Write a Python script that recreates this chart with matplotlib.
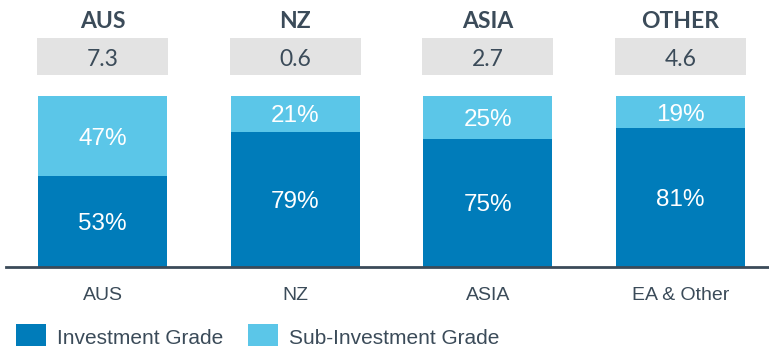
import matplotlib
matplotlib.use("Agg")
import matplotlib.pyplot as plt
from matplotlib.patches import Rectangle

# Exposure split by region
regions = ["AUS", "NZ", "ASIA", "OTHER"]
axis_labels = ["AUS", "NZ", "ASIA", "EA & Other"]
totals = ["7.3", "0.6", "2.7", "4.6"]
investment_grade = [53, 79, 75, 81]
sub_investment_grade = [47, 21, 25, 19]
series_names = ["Investment Grade", "Sub-Investment Grade"]

DARK = "#007CBA"
LIGHT = "#5BC6E8"
TEXT = "#3B4B59"
BOX = "#E3E3E3"

W, H = 769, 346
fig = plt.figure(figsize=(W / 100, H / 100), dpi=100)

# axes: y=0 at 267px, y=100 at 96px; spans 6px..768px horizontally
y0_px, y100_px = 267, 96
left_px, right_px = 6, 768
ax = fig.add_axes([left_px / W, (H - y0_px) / H,
                   (right_px - left_px) / W, (y0_px - y100_px) / H])

spacing = 192.7
c0 = 102.5
ax.set_xlim((left_px - c0) / spacing, (right_px - c0) / spacing)
ax.set_ylim(0, 100)

x = list(range(len(regions)))
bw = 0.67
ax.bar(x, investment_grade, width=bw, color=DARK)
ax.bar(x, sub_investment_grade, width=bw, bottom=investment_grade, color=LIGHT)

pct_font = dict(family="Liberation Sans", fontsize=17.5, color="white",
                ha="center", va="center_baseline")
for i in x:
    ax.text(i, investment_grade[i] / 2, f"{investment_grade[i]}%", **pct_font)
    ax.text(i, investment_grade[i] + sub_investment_grade[i] / 2,
            f"{sub_investment_grade[i]}%", **pct_font)


def px_to_y(py):
    return (y0_px - py) / (y0_px - y100_px) * 100


# header boxes with totals and region titles
box_w = 0.68
for i in x:
    ax.add_patch(Rectangle((i - box_w / 2, px_to_y(75)), box_w,
                           px_to_y(38) - px_to_y(75), facecolor=BOX,
                           edgecolor="none", clip_on=False))
    ax.text(i, px_to_y(57), totals[i], family="Lato", fontsize=16.5,
            color=TEXT, ha="center", va="center_baseline", clip_on=False)
    ax.text(i, px_to_y(20), regions[i], family="Lato", fontweight="bold",
            fontsize=16.5, color=TEXT, ha="center", va="center_baseline",
            clip_on=False)
    ax.text(i, px_to_y(293), axis_labels[i], family="Liberation Sans",
            fontsize=14, color=TEXT, ha="center", va="center_baseline",
            clip_on=False)

for s in ["top", "right", "left"]:
    ax.spines[s].set_visible(False)
ax.spines["bottom"].set_color(TEXT)
ax.spines["bottom"].set_linewidth(2)
ax.set_xticks([])
ax.set_yticks([])

# legend: colour squares with labels along the bottom edge
legend_items = [(16, DARK, series_names[0]), (248, LIGHT, series_names[1])]
for x_px, col, name in legend_items:
    fig.patches.append(Rectangle((x_px / W, (H - 354) / H), 30 / W, 30 / H,
                                 transform=fig.transFigure, facecolor=col,
                                 edgecolor="none"))
    fig.text((x_px + 41) / W, (H - 336) / H, name, family="Liberation Sans",
             fontsize=15, color=TEXT, ha="left", va="center_baseline")

fig.savefig("out.png", dpi=100)
